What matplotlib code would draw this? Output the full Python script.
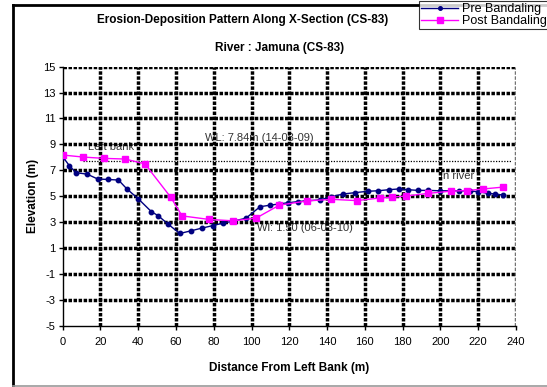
import matplotlib
matplotlib.use("Agg")
import matplotlib.pyplot as plt
from matplotlib.lines import Line2D

plt.rcParams['font.family'] = ['Liberation Sans', 'DejaVu Sans']
plt.rcParams['axes.unicode_minus'] = False

# ---- data ----
pre_x = [0, 3.5, 7, 13, 18.5, 24, 29.5, 34, 40, 47, 50.5, 56, 62, 68, 73.5, 79.5, 85, 90.5,
         97, 104.5, 109.5, 114.5, 119.5, 124.5, 129, 136, 142, 148.5, 154.5, 161.5, 167,
         172.5, 178, 183, 188, 193.5, 199.5, 205.5, 210, 215.5, 220, 225, 229, 233]
pre_y = [8.05, 7.36, 6.82, 6.70, 6.33, 6.29, 6.25, 5.56, 4.80, 3.80, 3.50, 2.82, 2.12, 2.33,
         2.53, 2.73, 2.93, 3.08, 3.30, 4.19, 4.30, 4.40, 4.50, 4.58, 4.65, 4.71, 4.95, 5.17,
         5.27, 5.38, 5.42, 5.50, 5.56, 5.50, 5.45, 5.45, 5.42, 5.42, 5.42, 5.40, 5.35, 5.22,
         5.17, 5.09]
post_x = [0, 11, 22, 33, 43.5, 57.3, 63.2, 77.3, 90, 102.3, 114.7, 129.2, 142.2, 155.6,
          168, 174.3, 181.7, 193.6, 205.6, 214.3, 222.7, 233]
post_y = [8.18, 8.02, 7.92, 7.87, 7.50, 4.90, 3.48, 3.21, 3.10, 3.30, 4.31, 4.63, 4.76,
          4.66, 4.86, 4.93, 5.01, 5.22, 5.39, 5.44, 5.56, 5.70]
wl_level = 7.7
wl_span = [11, 238]
xticks = list(range(0, 241, 20))
yticks = list(range(-5, 16, 2))
title = "Erosion-Deposition Pattern Along X-Section (CS-83)"
subtitle = "River : Jamuna (CS-83)"
xlabel = "Distance From Left Bank (m)"
ylabel = "Elevation (m)"
series_names = ["Pre Bandaling", "Post Bandaling"]

W, H = 547, 387
fig = plt.figure(figsize=(W / 100, H / 100), dpi=100)
L, R, T, B = 62.7, 516, 66.7, 325.7
ax = fig.add_axes([L / W, 1 - B / H, (R - L) / W, (B - T) / H])
ax.set_xlim(0, 240)
ax.set_ylim(-5, 15)

# gridlines
dash = (0, (1.0, 0.45))
glw = 2.5
for y in yticks[1:]:
    ax.axhline(y, color='black', lw=glw, ls=dash, zorder=1)
for x in xticks[1:-1]:
    ax.axvline(x, color='black', lw=glw, ls=dash, zorder=1)
ax.axvline(240, color='0.45', lw=glw, ls=dash, zorder=1)

# water level line
ax.plot(wl_span, [wl_level, wl_level], color='black', lw=0.9, ls=(0, (1, 1.2)), zorder=1.5)

# annotations (below grid)
tc = '#333333'
ax.text(13.2, 8.82, "Left bank", fontsize=8, color=tc, va='center', ha='left', zorder=0.5)
ax.text(75.6, 9.5, "WL: 7.84m (14-08-09)", fontsize=8, color=tc, va='center', ha='left', zorder=0.5)
ax.text(102.7, 2.52, "Wl: 1.50 (06-03-10)", fontsize=8, color=tc, va='center', ha='left', zorder=0.5)
ax.text(199.5, 6.58, "In river", fontsize=8, color=tc, va='center', ha='left', zorder=0.5)

# data
l1, = ax.plot(pre_x, pre_y, color='#000080', lw=1.0, marker='o', ms=3.2, zorder=3,
              label=series_names[0])
l2, = ax.plot(post_x, post_y, color='#FF00FF', lw=1.0, marker='s', ms=5, zorder=3,
              label=series_names[1])

for s in ['top', 'right']:
    ax.spines[s].set_visible(False)
for s in ['left', 'bottom']:
    ax.spines[s].set_linewidth(1.0)
    ax.spines[s].set_zorder(2)
ax.set_xticks(xticks)
ax.set_yticks(yticks)
ax.tick_params(axis='both', direction='out', length=3, width=1, labelsize=8)
ax.tick_params(axis='x', pad=5)
ax.tick_params(axis='y', pad=2)
ax.set_xlabel(xlabel, fontsize=8.5, fontweight='bold', labelpad=11)
ax.set_ylabel(ylabel, fontsize=8.5, fontweight='bold', labelpad=3)

fig.text(243 / W, 1 - 20 / H, title, ha='center', va='center', fontsize=8.5, fontweight='bold')
fig.text(280 / W, 1 - 48 / H, subtitle, ha='center', va='center', fontsize=8.5, fontweight='bold')

leg = fig.legend(handles=[l1, l2], loc='upper left', bbox_to_anchor=(419 / W, 1 - 1 / H),
                 fontsize=9, frameon=True, fancybox=False, edgecolor='black',
                 borderpad=0.15, labelspacing=0.0, handlelength=3.0, handletextpad=0.3,
                 borderaxespad=0, markerscale=0.8)
leg.get_frame().set_linewidth(0.8)

# chart-area border
fig.add_artist(Line2D([13 / W, 13 / W], [0, 1 - 5 / H], color='black', lw=2, transform=fig.transFigure))
fig.add_artist(Line2D([13 / W, 1], [1 - 5 / H, 1 - 5 / H], color='black', lw=2, transform=fig.transFigure))
fig.add_artist(Line2D([13 / W, 1], [1 / H, 1 / H], color='0.6', lw=1.2, transform=fig.transFigure))

fig.savefig("out.png", dpi=100)
